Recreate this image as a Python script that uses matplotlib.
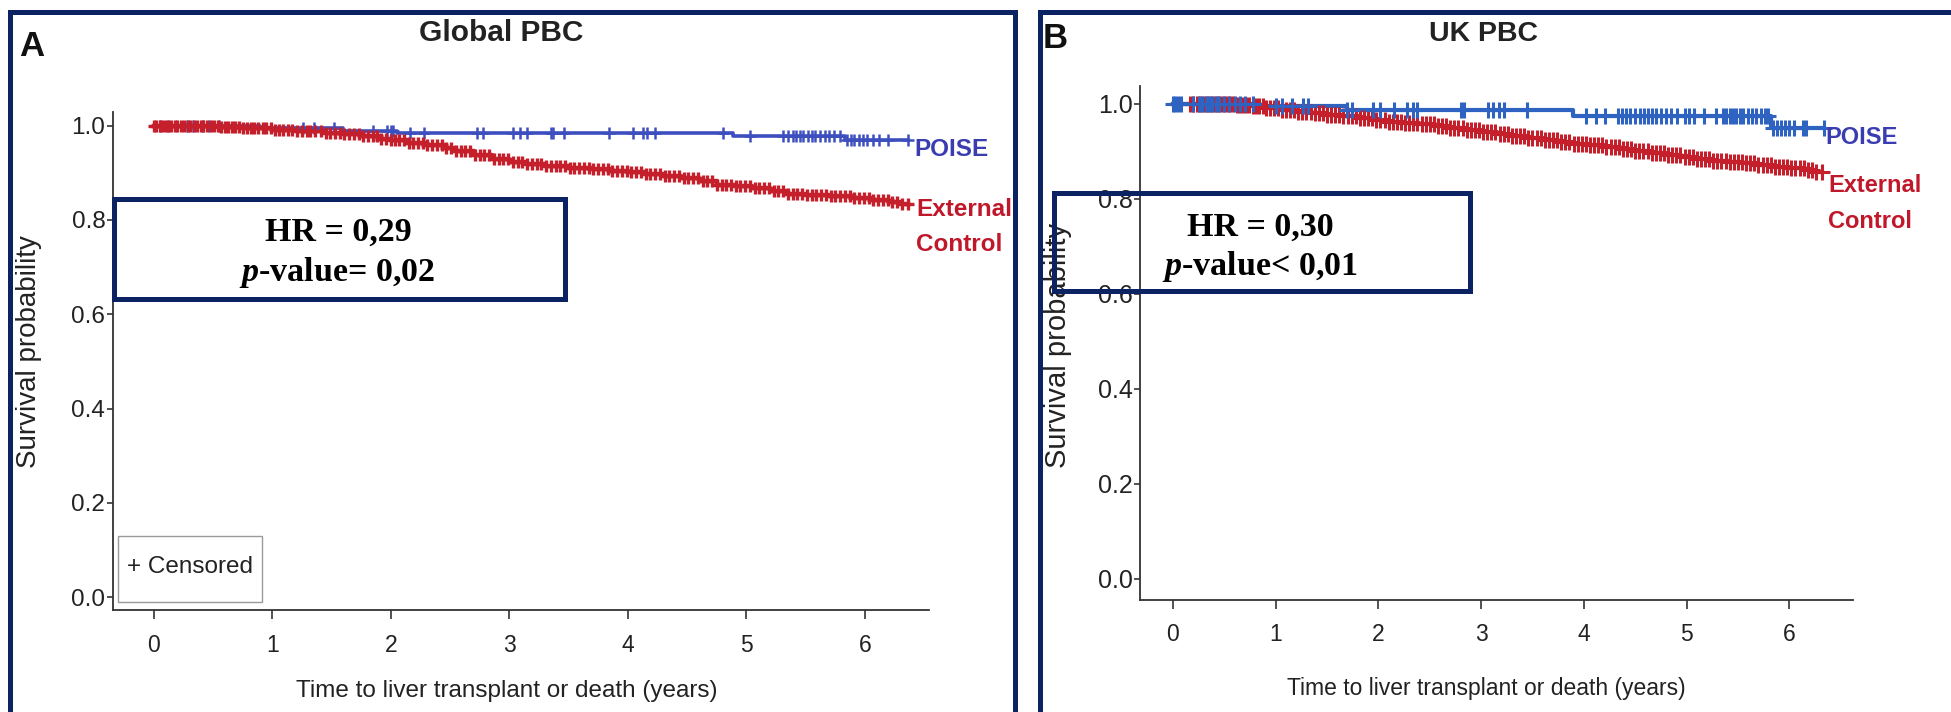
import numpy as np
import matplotlib
matplotlib.use("Agg")
import matplotlib.pyplot as plt
from matplotlib.patches import Rectangle

# ---------------- data ----------------
# Panel A: Global PBC
a_poise_t = [0, 0.9, 1.6, 2.05, 4.89, 5.83]
a_poise_s = [1.0, 0.995, 0.989, 0.985, 0.979, 0.969]
a_poise_end = 6.36
a_poise_cens = [0.05, 0.12, 0.28, 0.33, 0.42, 0.47, 0.55, 1.26, 1.35, 1.52,
                1.85, 1.97, 2.0, 2.02, 2.16, 2.28, 2.73, 2.78, 3.03, 3.09,
                3.15, 3.35, 3.37, 3.46, 3.84, 4.04, 4.13, 4.16, 4.23, 4.80,
                5.03, 5.31, 5.35, 5.39, 5.42, 5.45, 5.48, 5.52, 5.55, 5.58,
                5.62, 5.66, 5.70, 5.74, 5.79, 5.85, 5.88, 5.91, 5.95, 5.98,
                6.02, 6.07, 6.12, 6.19, 6.36]

a_ext_t = [0, 0.55, 0.75, 1.0, 1.2, 1.45, 1.6, 1.75, 1.9, 2.0, 2.15, 2.3,
           2.45, 2.55, 2.7, 2.85, 3.0, 3.15, 3.3, 3.5, 3.7, 3.85, 4.0, 4.15,
           4.3, 4.45, 4.6, 4.75, 4.9, 5.05, 5.2, 5.35, 5.5, 5.7, 5.9, 6.05,
           6.2, 6.3]
a_ext_s = [1.0, 0.998, 0.995, 0.991, 0.989, 0.985, 0.982, 0.977, 0.972,
           0.969, 0.964, 0.959, 0.952, 0.946, 0.938, 0.930, 0.923, 0.918,
           0.914, 0.911, 0.908, 0.904, 0.901, 0.897, 0.893, 0.888, 0.882,
           0.875, 0.872, 0.868, 0.862, 0.856, 0.853, 0.850, 0.847, 0.842,
           0.838, 0.834]
a_ext_end = 6.36
a_ext_cens = [0.00, 0.02, 0.05, 0.07, 0.10, 0.12, 0.15, 0.18, 0.20, 0.23,
              0.26, 0.29, 0.31, 0.34, 0.37, 0.40, 0.42, 0.45, 0.48, 0.51,
              0.54, 0.57, 0.60, 0.63, 0.66, 0.69, 0.72, 0.75, 0.79, 0.82,
              0.85, 0.88, 0.92, 0.95, 0.99, 1.02, 1.06, 1.09, 1.13, 1.17,
              1.21, 1.25, 1.29, 1.32, 1.36, 1.41, 1.45, 1.49, 1.53, 1.57,
              1.61, 1.65, 1.69, 1.73, 1.77, 1.81, 1.85, 1.88, 1.92, 1.96,
              2.00, 2.04, 2.07, 2.11, 2.15, 2.19, 2.23, 2.27, 2.31, 2.35,
              2.39, 2.43, 2.47, 2.51, 2.55, 2.59, 2.63, 2.67, 2.71, 2.75,
              2.79, 2.83, 2.87, 2.91, 2.95, 2.99, 3.03, 3.07, 3.11, 3.15,
              3.19, 3.23, 3.27, 3.31, 3.35, 3.39, 3.43, 3.47, 3.51, 3.55,
              3.59, 3.63, 3.67, 3.71, 3.75, 3.79, 3.83, 3.87, 3.91, 3.95,
              3.99, 4.03, 4.07, 4.11, 4.15, 4.19, 4.23, 4.27, 4.31, 4.35,
              4.39, 4.43, 4.47, 4.51, 4.55, 4.59, 4.63, 4.67, 4.71, 4.75,
              4.79, 4.83, 4.87, 4.91, 4.95, 4.99, 5.03, 5.07, 5.11, 5.15,
              5.19, 5.23, 5.27, 5.31, 5.35, 5.39, 5.43, 5.47, 5.51, 5.55,
              5.59, 5.63, 5.67, 5.71, 5.75, 5.79, 5.83, 5.87, 5.91, 5.95,
              5.99, 6.03, 6.07, 6.11, 6.15, 6.19, 6.23, 6.27, 6.31, 6.36]

# Panel B: UK PBC
b_poise_t = [0, 0.85, 1.69, 3.89, 5.82]
b_poise_s = [1.0, 0.995, 0.986, 0.974, 0.949]
b_poise_end = 6.34
b_poise_cens = [0.0, 0.02, 0.05, 0.08, 0.2, 0.25, 0.28, 0.32, 0.35, 0.38,
                0.42, 0.45, 0.5, 0.55, 0.6, 0.65, 0.7, 0.78, 1.0, 1.06,
                1.16, 1.27, 1.32, 1.69, 1.74, 1.95, 2.02, 2.15, 2.28, 2.34,
                2.38, 2.80, 2.83, 3.07, 3.12, 3.17, 3.22, 3.45, 4.02, 4.12,
                4.21, 4.33, 4.37, 4.41, 4.45, 4.5, 4.55, 4.59, 4.62, 4.66,
                4.7, 4.75, 4.8, 4.85, 4.91, 4.98, 5.02, 5.07, 5.17, 5.29,
                5.35, 5.38, 5.42, 5.45, 5.48, 5.52, 5.55, 5.6, 5.64, 5.68,
                5.72, 5.76, 5.79, 5.84, 5.88, 5.92, 5.96, 6.0, 6.05, 6.13,
                6.16, 6.34]

b_ext_t = [0, 0.4, 0.6, 0.75, 0.9, 1.05, 1.2, 1.35, 1.5, 1.65, 1.8, 1.95,
           2.1, 2.25, 2.4, 2.55, 2.7, 2.85, 3.0, 3.15, 3.3, 3.45, 3.6, 3.75,
           3.9, 4.05, 4.2, 4.35, 4.5, 4.65, 4.8, 4.95, 5.1, 5.25, 5.4, 5.55,
           5.7, 5.85, 6.0, 6.15, 6.25]
b_ext_s = [1.0, 0.999, 0.997, 0.994, 0.990, 0.986, 0.982, 0.980, 0.977,
           0.973, 0.969, 0.966, 0.962, 0.959, 0.956, 0.952, 0.948, 0.944,
           0.940, 0.935, 0.931, 0.927, 0.923, 0.919, 0.915, 0.912, 0.908,
           0.904, 0.900, 0.896, 0.891, 0.887, 0.883, 0.880, 0.877, 0.874,
           0.871, 0.867, 0.864, 0.860, 0.856]
b_ext_end = 6.32
b_ext_cens = [0.17, 0.20, 0.23, 0.26, 0.29, 0.32, 0.35, 0.38, 0.41, 0.44,
              0.47, 0.50, 0.53, 0.56, 0.59, 0.62, 0.65, 0.68, 0.71, 0.74,
              0.78, 0.81, 0.84, 0.88, 0.91, 0.95, 0.98, 1.02, 1.06, 1.10,
              1.14, 1.18, 1.22, 1.26, 1.30, 1.34, 1.38, 1.42, 1.46, 1.50,
              1.54, 1.58, 1.62, 1.66, 1.70, 1.74, 1.78, 1.82, 1.86, 1.90,
              1.94, 1.98, 2.02, 2.06, 2.10, 2.14, 2.18, 2.22, 2.26, 2.30,
              2.34, 2.38, 2.42, 2.46, 2.50, 2.54, 2.58, 2.62, 2.66, 2.70,
              2.74, 2.78, 2.82, 2.86, 2.90, 2.94, 2.98, 3.02, 3.06, 3.10,
              3.14, 3.18, 3.22, 3.26, 3.30, 3.34, 3.38, 3.42, 3.46, 3.50,
              3.54, 3.58, 3.62, 3.66, 3.70, 3.74, 3.78, 3.82, 3.86, 3.90,
              3.94, 3.98, 4.02, 4.06, 4.10, 4.14, 4.18, 4.22, 4.26, 4.30,
              4.34, 4.38, 4.42, 4.46, 4.50, 4.54, 4.58, 4.62, 4.66, 4.70,
              4.74, 4.78, 4.82, 4.86, 4.90, 4.94, 4.98, 5.02, 5.06, 5.10,
              5.14, 5.18, 5.22, 5.26, 5.30, 5.34, 5.38, 5.42, 5.46, 5.50,
              5.54, 5.58, 5.62, 5.66, 5.70, 5.74, 5.78, 5.82, 5.86, 5.90,
              5.94, 5.98, 6.02, 6.06, 6.10, 6.14, 6.18, 6.22, 6.26, 6.32]

x_ticks = [0, 1, 2, 3, 4, 5, 6]
y_ticks = [0.0, 0.2, 0.4, 0.6, 0.8, 1.0]

# ---------------- styling ----------------
W, H = 1951, 712
NAVY = "#0b2362"
RED = "#c61f2c"
BLUE_A = "#3d4fbf"
BLUE_B = "#2f63c2"
TXT_BLUE = "#3a3db0"
TXT_RED = "#c0182a"
INK = "#222222"
SANS = "Liberation Sans"
SERIF = "Liberation Serif"

plt.rcParams["mathtext.fontset"] = "custom"
plt.rcParams["mathtext.rm"] = SERIF + ":bold"
plt.rcParams["mathtext.bf"] = SERIF + ":bold"
plt.rcParams["mathtext.it"] = SERIF + ":italic:bold"
plt.rcParams["mathtext.bfit"] = SERIF + ":italic:bold"


def px(x, y):
    """pixel (from top-left) -> figure fraction"""
    return x / W, 1 - y / H


def km_curve(ax, t, s, end, cens, color, ms, mew, lw):
    tt = list(t) + [end]
    ss = list(s) + [s[-1]]
    ax.step(tt, ss, where="post", color=color, lw=lw, zorder=3)
    c = np.asarray(cens)
    idx = np.searchsorted(t, c, side="right") - 1
    cy = np.asarray(s)[idx]
    ax.plot(c, cy, ls="none", marker="+", ms=ms, mew=mew, color=color, zorder=4)


def style_axes(ax, xlim, ylim, ytick_size, xtick_size, xpad):
    ax.set_xlim(*xlim)
    ax.set_ylim(*ylim)
    for side in ("top", "right"):
        ax.spines[side].set_visible(False)
    for side in ("left", "bottom"):
        ax.spines[side].set_color("#333333")
        ax.spines[side].set_linewidth(1.3)
    ax.set_xticks(x_ticks)
    ax.set_xticklabels([str(v) for v in x_ticks], fontfamily=SANS,
                       fontsize=xtick_size, color=INK)
    ax.set_yticks(y_ticks)
    ax.set_yticklabels(["%.1f" % v for v in y_ticks], fontfamily=SANS,
                       fontsize=ytick_size, color=INK)
    ax.tick_params(axis="y", length=4.5, width=1.2, pad=0.8, colors="#333333")
    ax.tick_params(axis="x", length=6.5, width=1.2, pad=xpad, colors="#333333")
    for lab in ax.get_xticklabels() + ax.get_yticklabels():
        lab.set_color(INK)
    ax.patch.set_alpha(0)


fig = plt.figure(figsize=(W / 100, H / 100), dpi=100)

# ---------------- panel A ----------------
axA = fig.add_axes([112.7 / W, 1 - 610 / H, (929 - 112.7) / W, (610 - 111.7) / H])
km_curve(axA, a_poise_t, a_poise_s, a_poise_end, a_poise_cens, BLUE_A, 8, 1.8, 2.6)
km_curve(axA, a_ext_t, a_ext_s, a_ext_end, a_ext_cens, RED, 9, 2.4, 3.2)
style_axes(axA, (-0.345, 6.54), (-0.027, 1.0295), 17.5, 16.5, 11)

# ---------------- panel B ----------------
axB = fig.add_axes([1140 / W, 1 - 600 / H, (1853 - 1140) / W, (600 - 86) / H])
km_curve(axB, b_ext_t, b_ext_s, b_ext_end, b_ext_cens, RED, 11, 2.2, 3.0)
km_curve(axB, b_poise_t, b_poise_s, b_poise_end, b_poise_cens, BLUE_B, 11, 2.2, 3.0)
style_axes(axB, (-0.32, 6.62), (-0.045, 1.037), 18, 16.5, 10)

# ---------------- texts ----------------
fig.text(*px(32, 46), "A", fontfamily=SANS, fontweight="bold", fontsize=25,
         color="#111111", ha="center", va="center")
fig.text(*px(1055, 39), "B", fontfamily=SANS, fontweight="bold", fontsize=25,
         color="#111111", ha="center", va="center")
fig.text(*px(501, 33), "Global PBC", fontfamily=SANS, fontweight="bold",
         fontsize=21.5, color=INK, ha="center", va="center")
fig.text(*px(1483, 34), "UK PBC", fontfamily=SANS, fontweight="bold",
         fontsize=20.5, color=INK, ha="center", va="center")

fig.text(*px(29, 352), "Survival probability", fontfamily=SANS, fontsize=20,
         color=INK, rotation=90, ha="center", va="center")
fig.text(*px(1058, 345), "Survival probability", fontfamily=SANS, fontsize=21,
         color=INK, rotation=90, ha="center", va="center")
fig.text(*px(507, 691), "Time to liver transplant or death (years)",
         fontfamily=SANS, fontsize=17.5, color=INK, ha="center", va="center")
fig.text(*px(1486, 689), "Time to liver transplant or death (years)",
         fontfamily=SANS, fontsize=16.5, color=INK, ha="center", va="center")

# curve labels
fig.text(*px(914, 149), "POISE", fontfamily=SANS, fontweight="bold",
         fontsize=17.5, color=TXT_BLUE, ha="left", va="center")
fig.text(*px(916, 210), "External", fontfamily=SANS, fontweight="bold",
         fontsize=17.5, color=TXT_RED, ha="left", va="center")
fig.text(*px(916, 244), "Control", fontfamily=SANS, fontweight="bold",
         fontsize=17.5, color=TXT_RED, ha="left", va="center")
fig.text(*px(1825, 137), "POISE", fontfamily=SANS, fontweight="bold",
         fontsize=17, color=TXT_BLUE, ha="left", va="center")
fig.text(*px(1828, 186), "External", fontfamily=SANS, fontweight="bold",
         fontsize=17, color=TXT_RED, ha="left", va="center")
fig.text(*px(1828, 222), "Control", fontfamily=SANS, fontweight="bold",
         fontsize=17, color=TXT_RED, ha="left", va="center")

# censored legend box (panel A)
fig.add_artist(Rectangle(px(118, 602), 143.5 / W, 66 / H, transform=fig.transFigure,
                         fill=False, edgecolor="#9a9a9a", lw=1.0, zorder=2))
fig.text(*px(190, 567), "+ Censored", fontfamily=SANS, fontsize=17.5,
         color=INK, ha="center", va="center")

# HR boxes
fig.add_artist(Rectangle(px(114, 298.6), 451 / W, 100 / H, transform=fig.transFigure,
                         fill=False, edgecolor=NAVY, lw=3.6, zorder=5))
fig.text(*px(338, 232), "HR = 0,29", fontfamily=SERIF, fontweight="bold",
         fontsize=24.5, color="black", ha="center", va="center", zorder=6)
fig.text(*px(337, 272), r"$p$-value= 0,02", fontfamily=SERIF, fontweight="bold",
         fontsize=24.5, color="black", ha="center", va="center", zorder=6)

fig.add_artist(Rectangle(px(1054, 291), 415.5 / W, 98 / H, transform=fig.transFigure,
                         fill=False, edgecolor=NAVY, lw=3.6, zorder=5))
fig.text(*px(1260, 227), "HR = 0,30", fontfamily=SERIF, fontweight="bold",
         fontsize=24.5, color="black", ha="center", va="center", zorder=6)
fig.text(*px(1260, 266), r"$p$-value< 0,01", fontfamily=SERIF, fontweight="bold",
         fontsize=24.5, color="black", ha="center", va="center", zorder=6)

# panel frames
fig.add_artist(Rectangle(px(10, 760), 1005 / W, 748 / H, transform=fig.transFigure,
                         fill=False, edgecolor=NAVY, lw=3.6, zorder=5))
fig.add_artist(Rectangle(px(1040, 760), 960 / W, 748 / H, transform=fig.transFigure,
                         fill=False, edgecolor=NAVY, lw=3.6, zorder=5))

fig.savefig("out.png", dpi=100)
plt.close(fig)
